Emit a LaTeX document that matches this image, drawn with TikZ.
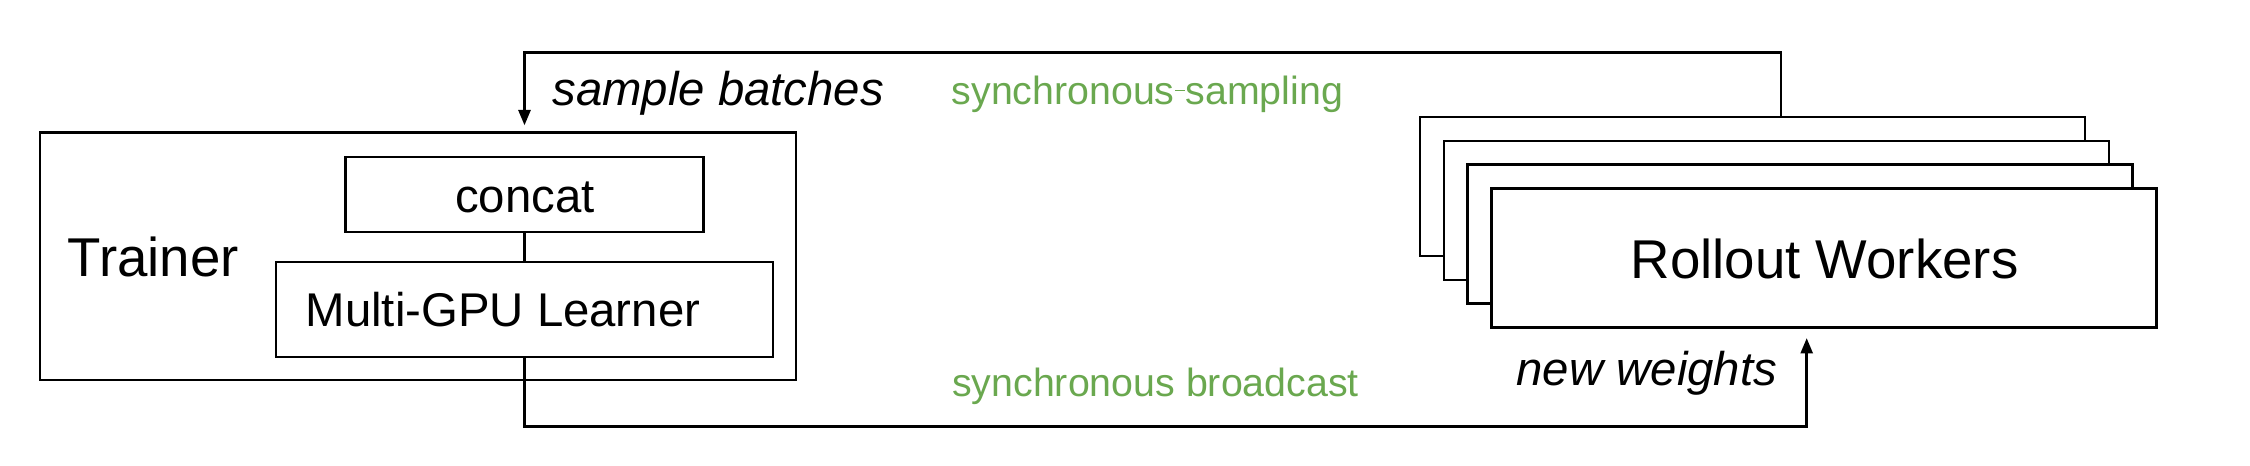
\documentclass[tikz,border=0pt]{standalone}
\usepackage{fontspec}
\setmainfont{Liberation Sans}
\usetikzlibrary{arrows.meta,calc}
\definecolor{sgreen}{RGB}{106,168,79}
\tikzset{
  box/.style={draw, line width=0.8pt, rectangle, inner sep=0pt, fill=white},
  conn/.style={draw, line width=0.8pt},
  arr/.style={conn, -{Triangle[length=4.6pt,width=3.6pt]}},
  lbl/.style={inner sep=0pt, anchor=base west},
  bigfont/.style={font=\fontsize{16.4pt}{19pt}\selectfont},
  midfont/.style={font=\fontsize{14.2pt}{17pt}\selectfont},
  itfont/.style={font=\fontsize{14.2pt}{17pt}\selectfont\itshape},
  grfont/.style={font=\fontsize{11.8pt}{14pt}\selectfont, text=sgreen},
}
\begin{document}
\begin{tikzpicture}[x=0.3pt, y=-0.3pt]
\useasboundingbox (0,0) rectangle (2250,466);
% Trainer
\node[box, minimum width=226.8pt, minimum height=74.2pt] (trainer) at (418,256.3) {};
\node[box, minimum width=107.4pt, minimum height=22.5pt] (concat) at (524.5,194.5) {};
\node[box, minimum width=149.1pt, minimum height=28.5pt] (learner) at (524.5,309.5) {};
\draw[conn] (concat.south) -- (learner.north);
\node[lbl, bigfont] (trainertxt) at (67,276.7) {Trainer};
\node[inner sep=0pt, anchor=base, midfont] (concattxt) at (525,212.7) {concat};
\node[lbl, midfont] (learnertxt) at (305,326.7) {Multi-GPU Learner};
% Rollout workers
\node[box, minimum width=199.5pt, minimum height=41.7pt] (w1) at (1752.5,186.5) {};
\node[box, minimum width=199.5pt, minimum height=41.7pt] (w2) at (1776.5,210.5) {};
\node[box, minimum width=199.5pt, minimum height=41.7pt] (w3) at (1800,234) {};
\node[box, minimum width=199.5pt, minimum height=41.7pt] (w4) at (1824,258.3) {};
\node[inner sep=0pt, anchor=base, bigfont] (rwtxt) at (1824.5,278) {Rollout Workers};
% connectors
\coordinate (topR) at (1781,52.7);
\coordinate (botR) at (1806.7,426.5);
\draw[arr, shorten >=1.8pt] (w1.north -| topR) -- (topR) -| (trainer.north -| concat.north);
\draw[arr, shorten >=2.7pt] (learner.south) |- (botR) -- (w4.south -| botR);
% labels
\node[lbl, itfont] (sb) at (551.7,105.5) {sample batches};
\node[lbl, grfont] (ss) at (951,104) {synchronous\hbox to 0.278em{\hss\rule[0.33em]{0.24em}{0.3pt}\hss}sampling};
\node[lbl, grfont] (sbc) at (951.5,396) {synchronous broadcast};
\node[lbl, itfont] (nw) at (1516,385) {new weights};
\end{tikzpicture}
\end{document}
